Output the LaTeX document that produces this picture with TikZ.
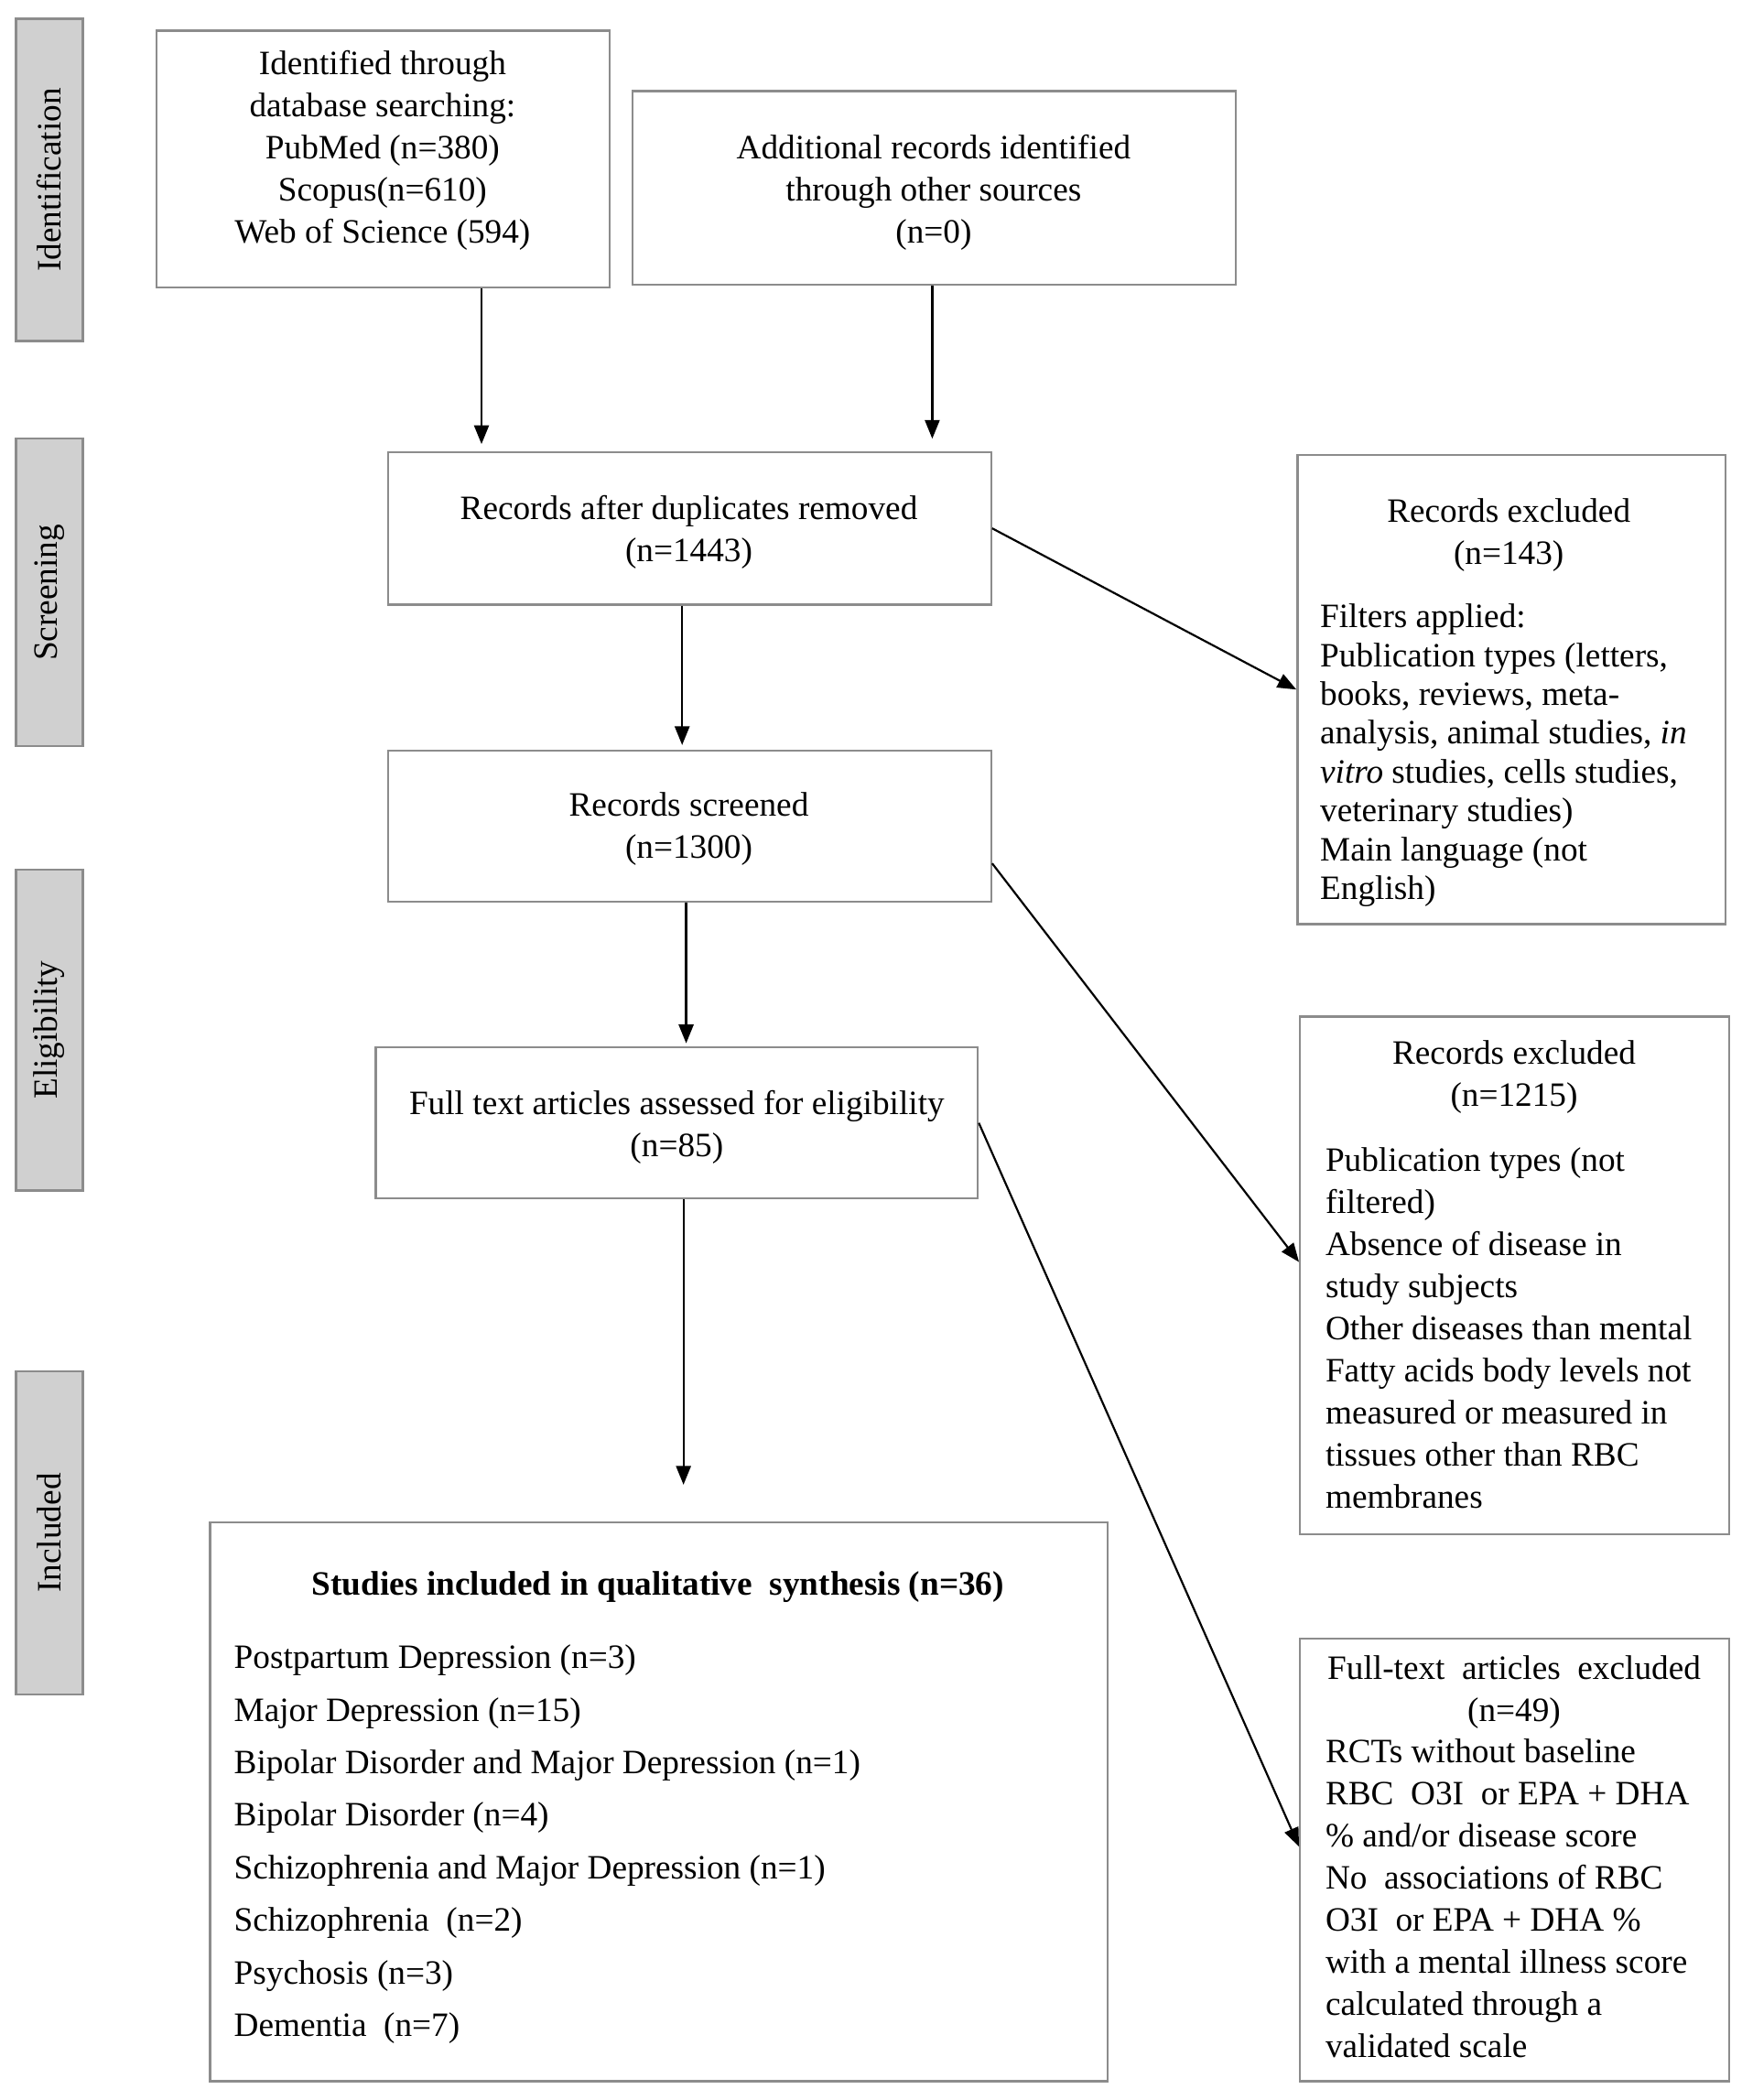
\documentclass[tikz,border=0pt]{standalone}
\usepackage{fontspec}
\usepackage{graphicx}
\setmainfont{Liberation Serif}
\usetikzlibrary{arrows.meta,calc}
\definecolor{boxgray}{HTML}{8C8C8C}
\definecolor{phfill}{HTML}{D0D0D0}
\newcommand\myfs{\fontsize{25.5}{31.5}\selectfont}
\newcommand\myfsr{\fontsize{25.5}{29}\selectfont}
\newcommand\myfsb{\fontsize{25.5}{39.3}\selectfont}
\begin{document}
\begin{tikzpicture}[x=1pt,y=-1pt,
  box/.style={draw=boxgray, line width=1.6pt, fill=white, inner sep=0pt},
  phase/.style={draw=boxgray, fill=phfill, line width=1.6pt, inner sep=0pt, minimum width=50pt, font=\myfs},
  txt/.style={inner sep=0pt, outer sep=0pt, font=\myfs},
  arr/.style={line width=1.5pt, -{Triangle[length=14pt,width=11pt]}}]

\path[fill=white, use as bounding box] (0,0) rectangle (1302,1570);

% phase labels
\node[phase, minimum height=241pt] (p1) at (37,134.5) {\rotatebox{90}{Identification}};
\node[phase, minimum height=230pt] (p2) at (37,443) {\rotatebox{90}{Screening}};
\node[phase, minimum height=240pt] (p3) at (37,770) {\rotatebox{90}{Eligibility}};
\node[phase, minimum height=242pt] (p4) at (37,1146) {\rotatebox{90}{Included}};

% boxes
\node[box, minimum width=339pt, minimum height=192pt] (b1) at (286.5,119) {};
\node[box, minimum width=451pt, minimum height=145pt] (b2) at (698.5,140.5) {};
\node[box, minimum width=451pt, minimum height=114pt] (b3) at (515.5,395) {};
\node[box, minimum width=451pt, minimum height=113pt] (b4) at (515.5,617.5) {};
\node[box, minimum width=450pt, minimum height=113pt] (b5) at (506,839.5) {};
\node[box, minimum width=671pt, minimum height=418pt] (b6) at (492.5,1347) {};
\node[box, minimum width=320pt, minimum height=351pt] (r1) at (1130,515.5) {};
\node[box, minimum width=321pt, minimum height=387pt] (r2) at (1132.5,953.5) {};
\node[box, minimum width=321pt, minimum height=331pt] (r3) at (1132.5,1390.5) {};

% texts
\node[txt, anchor=north, align=center] (t1) at (286,33.4)
  {\strut Identified through\\database searching:\\PubMed (n=380)\\Scopus(n=610)\\Web of Science (594)};
\node[txt, anchor=north, align=center] (t2) at (698,96.4)
  {\strut Additional records identified\\through other sources\\(n=0)};
\node[txt, anchor=north, align=center] (t3) at (515,366.4)
  {\strut Records after duplicates removed\\(n=1443)};
\node[txt, anchor=north, align=center] (t4) at (515,588.4)
  {\strut Records screened\\(n=1300)};
\node[txt, anchor=north, align=center] (t5) at (506,811.4)
  {\strut Full text articles assessed for eligibility\\(n=85)};

\node[txt, anchor=north, align=center] (r1h) at (1128,368.4)
  {\strut Records excluded\\(n=143)};
\node[txt, anchor=north west, align=left, font=\myfsr] (r1l) at (987,449.1)
  {\strut Filters applied:\\Publication types (letters,\\books, reviews, meta-\\analysis, animal studies, \textit{in}\\\textit{vitro} studies, cells studies,\\veterinary studies)\\Main language (not\\English)};

\node[txt, anchor=north, align=center] (r2h) at (1132,773.4)
  {\strut Records excluded\\(n=1215)};
\node[txt, anchor=north west, align=left] (r2l) at (991,853.4)
  {\strut Publication types (not\\filtered)\\Absence of disease in\\study subjects\\Other diseases than mental\\Fatty acids body levels not\\measured or measured in\\tissues other than RBC\\membranes};

\node[txt, anchor=north, align=center] (r3h) at (1132,1233.4)
  {\strut Full-text\ \ articles\ \ excluded\\(n=49)};
\node[txt, anchor=north west, align=left] (r3l) at (991,1295.4)
  {\strut RCTs without baseline\\RBC\ \ O3I\ \ or EPA\ + DHA\\\% and/or disease score\\No\ \ associations of RBC\\O3I\ \ or EPA + DHA \%\\with a mental illness score\\calculated through a\\validated scale};

\node[txt, anchor=north, font=\myfs\bfseries] (b6h) at (492,1170.4)
  {\strut Studies included in qualitative\ \ synthesis (n=36)};
\node[txt, anchor=north west, align=left, font=\myfsb] (b6l) at (175,1219.9)
  {\strut Postpartum Depression (n=3)\\Major Depression (n=15)\\Bipolar Disorder and Major Depression (n=1)\\Bipolar Disorder (n=4)\\Schizophrenia\ and Major Depression (n=1)\\Schizophrenia\ \ (n=2)\\Psychosis (n=3)\\Dementia\ \ (n=7)};

% arrows
\coordinate (a1) at (360,332);
\coordinate (a2) at (697,328);
\coordinate (a3) at (510,557);
\coordinate (a4) at (513,780);
\coordinate (a5) at (511,1110);
\draw[arr] (b1.south -| a1) -- (a1);
\draw[arr] (b2.south -| a2) -- (a2);
\draw[arr] (b3.south -| a3) -- (a3);
\draw[arr] (b4.south -| a4) -- (a4);
\draw[arr] (b5.south -| a5) -- (a5);
\draw[arr] (b3.east) -- (r1.west);
\draw[arr] ([yshift=-28pt]b4.east) -- ([yshift=10pt]r2.west);
\draw[arr] (b5.east) -- ([yshift=10pt]r3.west);
\end{tikzpicture}
\end{document}
